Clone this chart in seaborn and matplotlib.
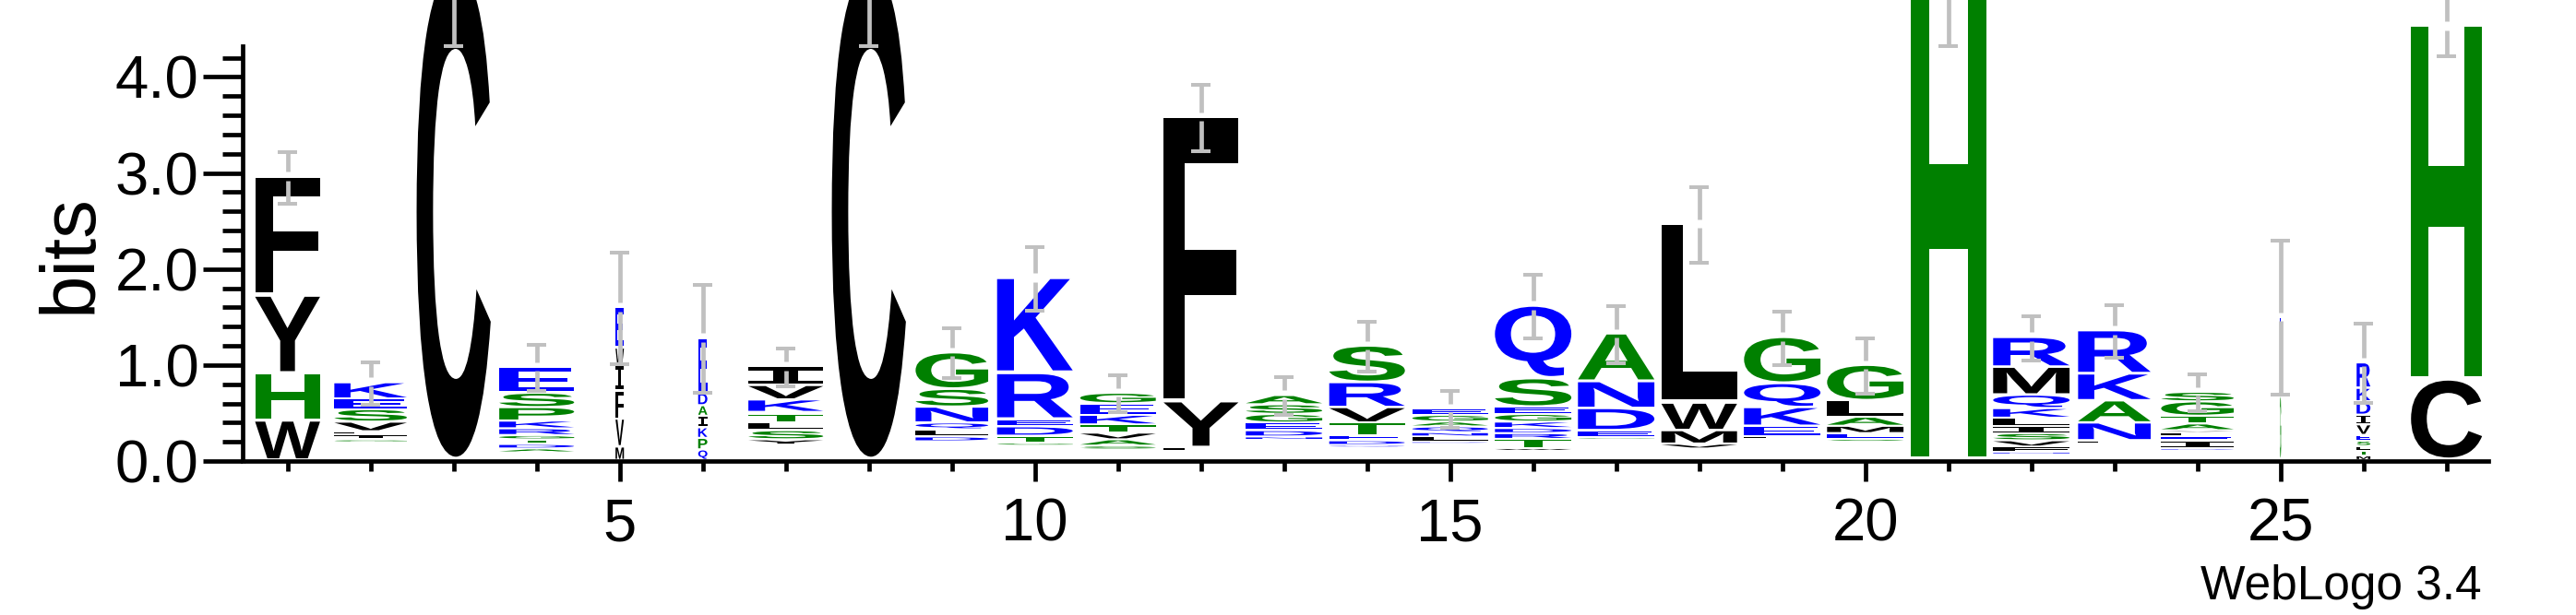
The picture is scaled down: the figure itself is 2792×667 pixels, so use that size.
import matplotlib
matplotlib.use("Agg")
import matplotlib.pyplot as plt
import seaborn as sns
from matplotlib.textpath import TextPath
from matplotlib.font_manager import FontProperties
from matplotlib.patches import PathPatch
from matplotlib.transforms import Affine2D
from matplotlib.ticker import FixedLocator, MultipleLocator, FormatStrFormatter

positions = list(range(1, 28))

# residues of each stack, bottom -> top
stack_letters = [
    "WHYF", "GILVSEK", "C", "ADTGRKPSE", "MVFIWE", "QPKIADE", "YSLTAKVI",
    "C", "DLQNSG", "GTDERK", "SAVTKEG", "LYF", "NDEGSA", "QDETVRS",
    "DLNQAGE", "WTRDKGESQ", "GEDNA", "IVMWL", "LEKQG", "SEMALG", "H",
    "NFVSILKQMR", "LNAKR", "DIELVATGS", "GE", "MTLSEVIDKR", "CH",
]

# information (bits) carried by each residue, bottom -> top
stack_bits = [
    [0.41, 0.49, 0.81, 1.24],
    [0.03, 0.05, 0.034, 0.10, 0.13, 0.11, 0.17],
    [5.10],
    [0.04, 0.047, 0.048, 0.045, 0.07, 0.08, 0.14, 0.15, 0.268],
    [0.14, 0.29, 0.29, 0.27, 0.18, 0.42],
    [0.11, 0.12, 0.11, 0.12, 0.11, 0.13, 0.57],
    [0.055, 0.095, 0.08, 0.09, 0.02, 0.13, 0.15, 0.195],
    [5.10],
    [0.05, 0.075, 0.07, 0.165, 0.185, 0.38],
    [0.03, 0.073, 0.097, 0.076, 0.478, 0.99],
    [0.04, 0.065, 0.07, 0.085, 0.10, 0.12, 0.11],
    [0.04, 0.48, 2.96],
    [0.035, 0.065, 0.08, 0.09, 0.10, 0.096],
    [0.027, 0.048, 0.055, 0.13, 0.16, 0.26, 0.38],
    [0.025, 0.05, 0.045, 0.06, 0.05, 0.07, 0.065],
    [0.03, 0.095, 0.06, 0.053, 0.067, 0.08, 0.075, 0.295, 0.756],
    [0.025, 0.07, 0.23, 0.28, 0.497],
    [0.03, 0.05, 0.14, 0.286, 1.864],
    [0.03, 0.106, 0.194, 0.25, 0.48],
    [0.03, 0.06, 0.076, 0.094, 0.17, 0.37],
    [5.10],
    [0.027, 0.053, 0.065, 0.075, 0.076, 0.084, 0.10, 0.14, 0.29, 0.31],
    [0.035, 0.185, 0.23, 0.28, 0.45],
    [0.025, 0.08, 0.04, 0.04, 0.025, 0.07, 0.08, 0.15, 0.10],
    [0.67, 0.82],
    [0.048, 0.048, 0.05, 0.055, 0.06, 0.11, 0.10, 0.14, 0.14, 0.265],
    [0.837, 3.68],
]

# bits of residues too rare to be drawn (bottom of each stack)
hidden_bits = [0.0, 0.185, 0.0, 0.08, 0.0, 0.0, 0.16, 0.0, 0.195, 0.15,
               0.11, 0.09, 0.21, 0.13, 0.17, 0.095, 0.215, 0.09, 0.22, 0.19,
               0.0, 0.06, 0.17, 0.10, 0.0, 0.0, 0.0]

# error of the stack height (bits)
error_bits = [0.27, 0.22, 0.78, 0.24, 0.58, 0.56, 0.20, 0.78, 0.26, 0.33,
              0.19, 0.345, 0.195, 0.26, 0.19, 0.33, 0.295, 0.395, 0.28, 0.29,
              0.78, 0.23, 0.27, 0.195, 0.80, 0.415, 0.30]

# fraction of sequences occupying each position (scales stack width)
occupancy = [0.85, 0.95, 0.97, 0.98, 0.11, 0.12, 0.98, 0.97, 0.95, 0.99,
             0.99, 0.98, 1.0, 0.99, 0.99, 1.0, 1.0, 0.99, 1.0, 1.0,
             0.99, 1.0, 0.95, 0.95, 0.016, 0.18, 0.93]

x_tick_labels = ["5", "10", "15", "20", "25"]

# ---------------- style ----------------
sns.set_style("ticks")
plt.rcParams["font.family"] = ["Liberation Sans", "DejaVu Sans"]
for key in ("text.color", "axes.labelcolor", "xtick.color", "ytick.color",
            "xtick.labelcolor", "ytick.labelcolor", "axes.edgecolor"):
    plt.rcParams[key] = "black"

BLUE, GREEN, BLACK = "#0000ff", "#008000", "#000000"
color_of = {}
for aa in "RKDENQ":
    color_of[aa] = BLUE
for aa in "SGHTAP":
    color_of[aa] = GREEN
for aa in "YVMCLFIW":
    color_of[aa] = BLACK
ERR_COLOR = "#c0c0c0"

W_PX, H_PX, DPI = 2792, 667, 100
fig = plt.figure(figsize=(W_PX / DPI, H_PX / DPI), dpi=DPI)
ax = fig.add_axes([266.7 / W_PX, 167 / H_PX, 2430 / W_PX, 450 / H_PX])

sans_bold = FontProperties(family="Liberation Sans", weight="bold")
mono_bold = FontProperties(family="DejaVu Sans Mono", weight="bold")
_cache = {}


def glyph(aa):
    if aa not in _cache:
        fp = mono_bold if aa == "I" else sans_bold
        p = TextPath((0, 0), aa, size=1, prop=fp)
        _cache[aa] = (p, p.get_extents())
    return _cache[aa]


def draw_letter(aa, xc, width, y0, y1):
    p, ext = glyph(aa)
    t = (Affine2D().translate(-ext.x0, -ext.y0)
         .scale(width / ext.width, (y1 - y0) / ext.height)
         .translate(xc - width / 2, y0))
    ax.add_patch(PathPatch(t.transform_path(p), facecolor=color_of[aa],
                           edgecolor="none", lw=0, clip_on=False, zorder=2))


FULL_W = 0.92
for x, letters, bits, base, occ, err in zip(positions, stack_letters, stack_bits,
                                            hidden_bits, occupancy, error_bits):
    width = FULL_W * occ
    y = base
    for aa, h in zip(letters, bits):
        gap = min(0.045, 0.02 + 0.02 * h)
        if h - gap > 0.002:
            draw_letter(aa, x, width, y + gap, y + h)
        y += h
    top = y
    lo, hi = top - err, top + err
    ax.vlines([x, x], [lo, top + 0.06], [top - 0.03, hi], colors=ERR_COLOR,
              lw=3.4, zorder=3, clip_on=False)
    ax.hlines([lo, hi], x - 0.115, x + 0.115, colors=ERR_COLOR, lw=2.9,
              zorder=3, clip_on=False)

# ---------------- axes ----------------
ax.set_xlim(0.5, 27.5)
ax.set_ylim(0, 4.32)
sns.despine(ax=ax, top=True, right=True)
ax.spines["left"].set_position(("outward", 3))
for s in ("left", "bottom"):
    ax.spines[s].set_linewidth(3.4)
    ax.spines[s].set_color("black")

ax.xaxis.set_major_locator(FixedLocator([int(t) for t in x_tick_labels]))
ax.set_xticklabels(x_tick_labels)
ax.xaxis.set_minor_locator(FixedLocator(positions))
ax.yaxis.set_major_locator(MultipleLocator(1.0))
ax.yaxis.set_minor_locator(MultipleLocator(0.2))
ax.yaxis.set_major_formatter(FormatStrFormatter("%.1f"))

ax.tick_params(axis="x", which="major", length=15.6, width=3.4, pad=13,
               labelsize=47, color="black", labelcolor="black", direction="out")
ax.tick_params(axis="x", which="minor", length=7.7, width=3.4,
               color="black", direction="out")
ax.tick_params(axis="y", which="major", length=30.7, width=3.4, pad=3,
               labelsize=47, color="black", labelcolor="black", direction="out")
ax.tick_params(axis="y", which="minor", length=15.8, width=3.4,
               color="black", direction="out")
ax.set_facecolor("white")

fig.text(99 / W_PX, 1 - 275 / H_PX, "bits", rotation=90, rotation_mode="anchor",
         ha="center", va="baseline", fontsize=60, color="black")
fig.text(2690 / W_PX, 1 - 650 / H_PX, "WebLogo 3.4", ha="right", va="baseline",
         fontsize=37, color="black")

fig.savefig("out.png", dpi=DPI, facecolor="white")
